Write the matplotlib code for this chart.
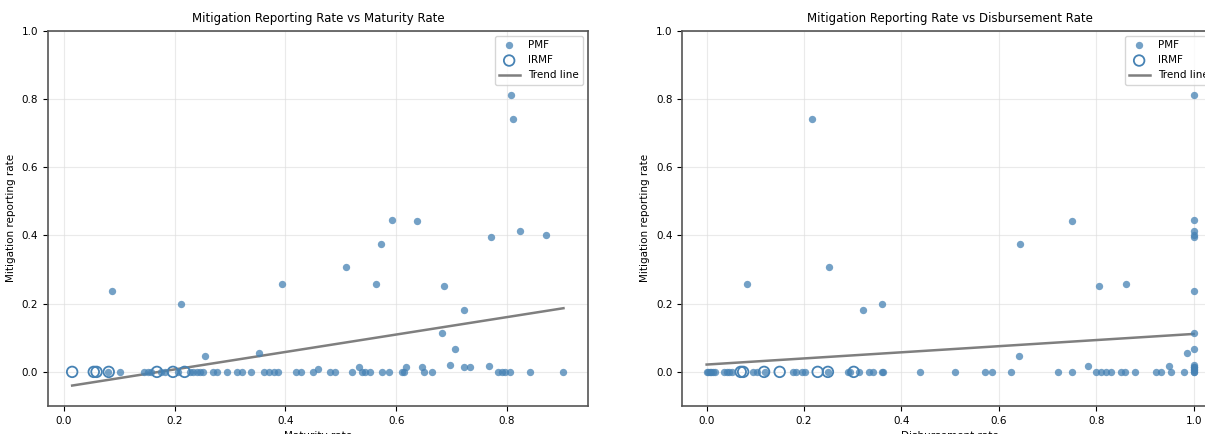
import matplotlib
matplotlib.use("Agg")
import matplotlib.pyplot as plt
import numpy as np

# ---- data ----
# Maturity panel, PMF projects
mat_pmf_x = [0.080, 0.102, 0.144, 0.152, 0.158, 0.176, 0.182, 0.206, 0.228, 0.234,
             0.240, 0.246, 0.252, 0.270, 0.277, 0.295, 0.313, 0.322, 0.337, 0.362,
             0.371, 0.380, 0.386, 0.420, 0.429, 0.450, 0.459,
             0.480, 0.489, 0.520, 0.532, 0.538, 0.544, 0.553, 0.575, 0.587, 0.611,
             0.614, 0.617, 0.647, 0.651, 0.665, 0.698, 0.722, 0.733, 0.768, 0.783,
             0.791, 0.797, 0.806, 0.841, 0.902,
             0.087, 0.212, 0.255, 0.353, 0.394, 0.510, 0.564, 0.573, 0.593, 0.637,
             0.683, 0.686, 0.706, 0.723, 0.771, 0.807, 0.811, 0.823, 0.871]
mat_pmf_y = [0, 0, 0, 0, 0, 0, 0, 0, 0, 0,
             0, 0, 0, 0, 0, 0, 0, 0, 0, 0,
             0, 0, 0, 0, 0, 0, 0.008,
             0, 0, 0, 0.015, 0, 0, 0, 0, 0, 0,
             0, 0.013, 0.015, 0, 0, 0.020, 0.013, 0.015, 0.016, 0,
             0, 0, 0, 0, 0,
             0.237, 0.200, 0.048, 0.054, 0.258, 0.307, 0.258, 0.375, 0.444, 0.442,
             0.113, 0.253, 0.066, 0.180, 0.395, 0.811, 0.740, 0.412, 0.402]
mat_irmf_x = [0.015, 0.054, 0.059, 0.081, 0.168, 0.197, 0.218]
mat_irmf_y = [0, 0, 0, 0, 0, 0, 0]

# Disbursement panel, PMF projects
disb_pmf_x = [0.000, 0.003, 0.006, 0.009, 0.013, 0.018, 0.036, 0.041, 0.046, 0.053,
              0.095, 0.104, 0.119, 0.178, 0.184, 0.195, 0.203, 0.250, 0.290, 0.295,
              0.312, 0.333, 0.342, 0.360, 0.362, 0.438, 0.510, 0.571, 0.585, 0.625,
              0.721, 0.750, 0.783, 0.800, 0.809, 0.819, 0.831, 0.850, 0.860, 0.879,
              0.922, 0.933, 0.950, 0.954, 0.980,
              1.0, 1.0, 1.0, 1.0, 1.0, 1.0, 1.0,
              0.083, 0.217, 0.251, 0.322, 0.360, 0.643, 0.642, 0.750, 0.806, 0.861,
              0.987, 1.0, 1.0, 1.0, 1.0, 1.0, 1.0, 1.0, 1.0]
disb_pmf_y = [0, 0, 0, 0, 0, 0, 0, 0, 0, 0,
              0, 0, 0, 0, 0, 0, 0, 0, 0, 0,
              0, 0, 0, 0, 0, 0, 0, 0, 0, 0,
              0, 0, 0.016, 0, 0, 0, 0, 0, 0, 0,
              0, 0, 0.016, 0, 0,
              0, 0, 0.005, 0.008, 0.013, 0.015, 0.020,
              0.258, 0.740, 0.307, 0.180, 0.200, 0.375, 0.048, 0.442, 0.253, 0.258,
              0.054, 0.811, 0.444, 0.412, 0.402, 0.395, 0.237, 0.113, 0.066]
disb_irmf_x = [0.070, 0.075, 0.118, 0.150, 0.228, 0.249, 0.302]
disb_irmf_y = [0, 0, 0, 0, 0, 0, 0]

# trend lines (slope, intercept) as drawn in the reference
mat_trend = (0.2556, -0.0439)
disb_trend = (0.0897, 0.0215)

titles = ["Mitigation Reporting Rate vs Maturity Rate",
          "Mitigation Reporting Rate vs Disbursement Rate"]
xlabels = ["Maturity rate", "Disbursement rate"]

fig = plt.figure(figsize=(12.05, 4.34), dpi=100)
ax1 = fig.add_axes([0.0395, 0.0645, 0.4485, 0.8648])
ax2 = fig.add_axes([0.5662, 0.0645, 0.4446, 0.8648])

panels = [
    (ax1, mat_pmf_x, mat_pmf_y, mat_irmf_x, mat_irmf_y, mat_trend),
    (ax2, disb_pmf_x, disb_pmf_y, disb_irmf_x, disb_irmf_y, disb_trend),
]

for i, (ax, px, py, ix, iy, trend) in enumerate(panels):
    ax.scatter(px, py, s=28, color="#4682b4", alpha=0.75, linewidths=0, label="PMF", zorder=3)
    ax.scatter(ix, iy, s=58, facecolors="none", edgecolors="#4682b4", linewidths=1.3,
               label="IRMF", zorder=3)
    allx = np.array(list(px) + list(ix))
    xs = np.array([allx.min(), allx.max()])
    ax.plot(xs, trend[0] * xs + trend[1], color="#7f7f7f", lw=1.8, label="Trend line", zorder=2)

    ax.set_ylim(-0.1, 1.0)
    ax.set_yticks([0.0, 0.2, 0.4, 0.6, 0.8, 1.0])
    ax.grid(True, color="#dddddd", alpha=0.6, lw=0.8)
    ax.set_title(titles[i], fontsize=8.5)
    ax.set_xlabel(xlabels[i], fontsize=7.5)
    ax.set_ylabel("Mitigation reporting rate", fontsize=7.5)
    ax.tick_params(labelsize=7.5)
    for sp in ax.spines.values():
        sp.set_color("#555555")
        sp.set_linewidth(1.2)
    ax.legend(loc="upper right", fontsize=7.5)

fig.savefig("out.png", dpi=100)
